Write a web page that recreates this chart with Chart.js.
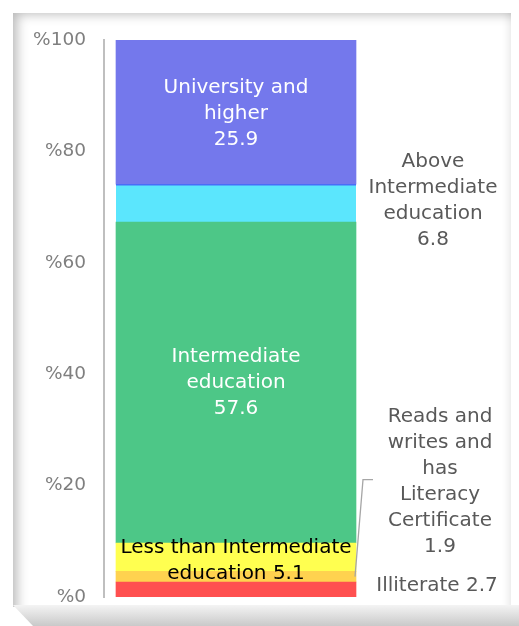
<!DOCTYPE html>
<html>
<head>
<meta charset="utf-8">
<script src="https://cdn.jsdelivr.net/npm/chart.js@4"></script>
<style>
  html, body { margin: 0; padding: 0; background: #fff; }
  #wrap { position: relative; width: 519px; height: 626px; overflow: hidden; }
  #card {
    position: absolute; left: 13px; top: 13px; width: 498px; height: 594px;
    background: #fff;
    box-shadow: inset 12px 9px 12px -8px rgba(0,0,0,0.28), inset -9px 0 10px -8px rgba(0,0,0,0.12);
  }
  #base {
    position: absolute; left: 13px; top: 605px; width: 520px; height: 21px;
    background: linear-gradient(#f4f4f4, #c9c9c9);
    clip-path: polygon(0 0, 100% 0, 100% 100%, 20px 100%);
  }
  #chartBox { position: absolute; left: 0; top: 0; width: 519px; height: 626px; }
</style>
</head>
<body>
<div id="wrap">
  <div id="card"></div>
  <div id="base"></div>
  <div id="chartBox"><canvas id="eduChart"></canvas></div>
</div>
<script>
// Education level shares (stacked, bottom to top)
const categories = ['Education level'];
const segmentNames = [
  'Illiterate',
  'Reads and writes and has Literacy Certificate',
  'Less than Intermediate education',
  'Intermediate education',
  'Above Intermediate education',
  'University and higher'
];
const segmentValues = [2.7, 1.9, 5.1, 57.6, 6.8, 25.9];
const segmentColors = ['#FF5050', '#FFD24F', '#FFFF50', '#4DC787', '#5BE6FD', '#7478EC'];
const yTicks = [0, 20, 40, 60, 80, 100];

// label text for each segment
const labelLines = [
  ['Illiterate 2.7'],
  ['Reads and', 'writes and', 'has', 'Literacy', 'Certificate', '1.9'],
  ['Less than Intermediate', 'education 5.1'],
  ['Intermediate', 'education', '57.6'],
  ['Above', 'Intermediate', 'education', '6.8'],
  ['University and', 'higher', '25.9']
];
// where each label goes: inside the bar or to its right
const labelPlace = [
  { side: 'out', dx: 81, dy: -4, color: '#595959' },
  { side: 'out', dx: 84, dy: -95, color: '#595959', leader: true },
  { side: 'in', dy: 4, color: '#000000' },
  { side: 'in', dy: 0, color: '#ffffff' },
  { side: 'out', dx: 77, dy: -2, color: '#595959' },
  { side: 'in', dy: 2, color: '#ffffff' }
];

const FONT = '"DejaVu Sans", sans-serif';

const segmentLabels = {
  id: 'segmentLabels',
  afterDatasetsDraw(chart) {
    const ctx = chart.ctx;
    ctx.save();
    ctx.font = '20px ' + FONT;
    ctx.textAlign = 'center';
    ctx.textBaseline = 'middle';
    const lh = 26;
    segmentValues.forEach((v, i) => {
      const bar = chart.getDatasetMeta(i).data[0];
      const cy = (bar.y + bar.base) / 2;
      const p = labelPlace[i];
      const right = bar.x + bar.width / 2;
      const x = p.side === 'in' ? bar.x : right + p.dx;
      const lines = labelLines[i];
      const midY = cy + p.dy;
      const top = midY - (lines.length - 1) * lh / 2;
      ctx.fillStyle = p.color;
      lines.forEach((t, k) => ctx.fillText(t, x, top + k * lh));
      if (p.leader) {
        ctx.strokeStyle = '#a6a6a6';
        ctx.lineWidth = 1.3;
        ctx.beginPath();
        ctx.moveTo(right + 17, midY - 2);
        ctx.lineTo(right + 7, midY - 2);
        ctx.lineTo(right - 1, cy);
        ctx.stroke();
      }
    });
    ctx.restore();
  }
};

new Chart(document.getElementById('eduChart'), {
  type: 'bar',
  data: {
    labels: categories,
    datasets: segmentValues.map((v, i) => ({
      label: segmentNames[i],
      data: [v],
      backgroundColor: segmentColors[i],
      borderColor: i === 4 ? '#4A6CF7' : segmentColors[i],
      borderWidth: i === 4 ? { top: 1.5, right: 0, bottom: 0, left: 0 } : 0,
      borderSkipped: false,
      barThickness: 240
    }))
  },
  options: {
    responsive: true,
    maintainAspectRatio: false,
    animation: false,
    layout: { padding: { top: 40, bottom: 29, left: 0, right: 151 } },
    plugins: { legend: { display: false }, tooltip: { enabled: false } },
    scales: {
      x: { stacked: true, display: false },
      y: {
        stacked: true,
        min: 0,
        max: 100,
        afterFit(scale) { scale.width = 104; },
        afterBuildTicks(scale) { scale.ticks = yTicks.map(v => ({ value: v })); },
        grid: { display: false },
        border: { display: true, color: '#bfbfbf', width: 2 },
        ticks: {
          padding: 10,
          color: '#7f7f7f',
          font: { family: FONT, size: 18.5 },
          callback: v => '%' + v
        }
      }
    }
  },
  plugins: [segmentLabels]
});
</script>
</body>
</html>
